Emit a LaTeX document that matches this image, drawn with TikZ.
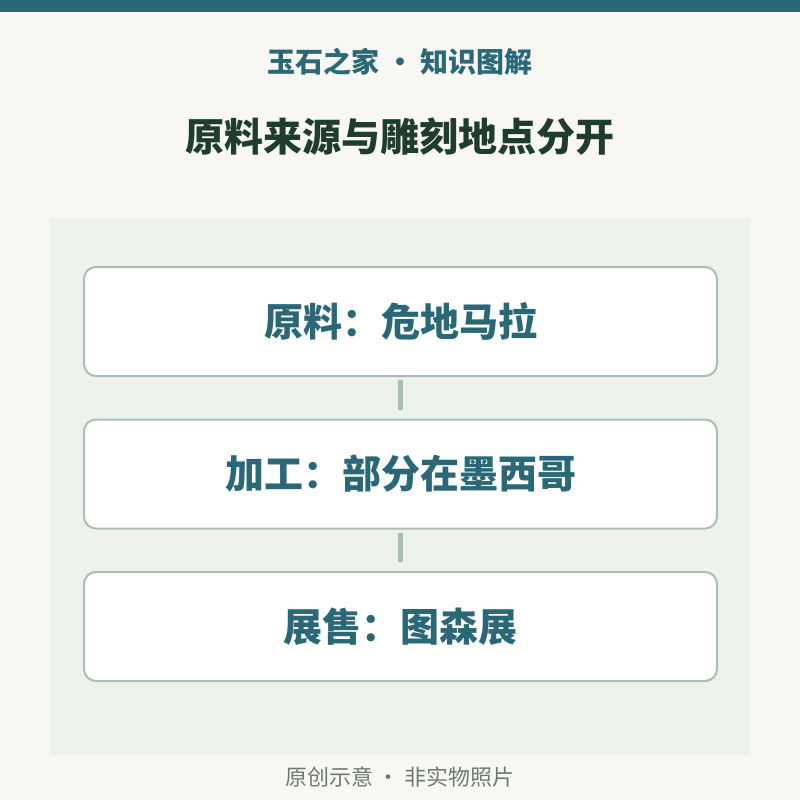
\documentclass[tikz,border=0pt]{standalone}
\usepackage{fontspec}
\newfontfamily\cjk{Noto Sans CJK SC}
\definecolor{bgcol}{HTML}{F8F7F3}
\definecolor{tealcol}{HTML}{2A6878}
\definecolor{darkcol}{HTML}{1F3D2F}
\definecolor{panelcol}{HTML}{EDF2EC}
\definecolor{edgecol}{HTML}{A9BFB1}
\definecolor{footcol}{HTML}{6E7B72}

\begin{document}
\begin{tikzpicture}[x=1pt, y=-1pt]
	\useasboundingbox (0,0) rectangle (800,800);
	\fill[bgcol] (0,0) rectangle (800,800);
	\fill[tealcol] (0,0) rectangle (800,12);
	
	% TITLE
	\path (400, 62) node[font=\cjk\bfseries\fontsize{28}{30}\selectfont, text=tealcol] (sub) {玉石之家 • 知识图解};
	\path (400, 137) node[font=\cjk\bfseries\fontsize{39}{42}\selectfont, text=darkcol] (title) {原料来源与雕刻地点分开};
	
	% PANEL
	\fill[panelcol] (50,218) rectangle (750,755);
	
	% STEPS
	\tikzstyle{every node}=[rectangle, rounded corners=12pt, fill=white, draw=edgecol, line width=2pt, minimum width=633pt, minimum height=109pt, text=tealcol, font=\cjk\bfseries\fontsize{39}{42}\selectfont]
	\path (400.5, 321.5) node (raw) {原料：危地马拉};
	\path (400.5, 474) node (work) {加工：部分在墨西哥};
	\path (400.5, 626.5) node (sale) {展售：图森展};
	\tikzstyle{every node}=[]
	\draw[edgecol, line width=5pt, shorten <=3pt, shorten >=9pt] (raw) -- (work);
	\draw[edgecol, line width=5pt, shorten <=3pt, shorten >=9pt] (work) -- (sale);
	
	% FOOTER
	\path (400, 777) node[font=\cjk\fontsize{22}{24}\selectfont, text=footcol] (foot) {原创示意 · 非实物照片};
\end{tikzpicture}
\end{document}
